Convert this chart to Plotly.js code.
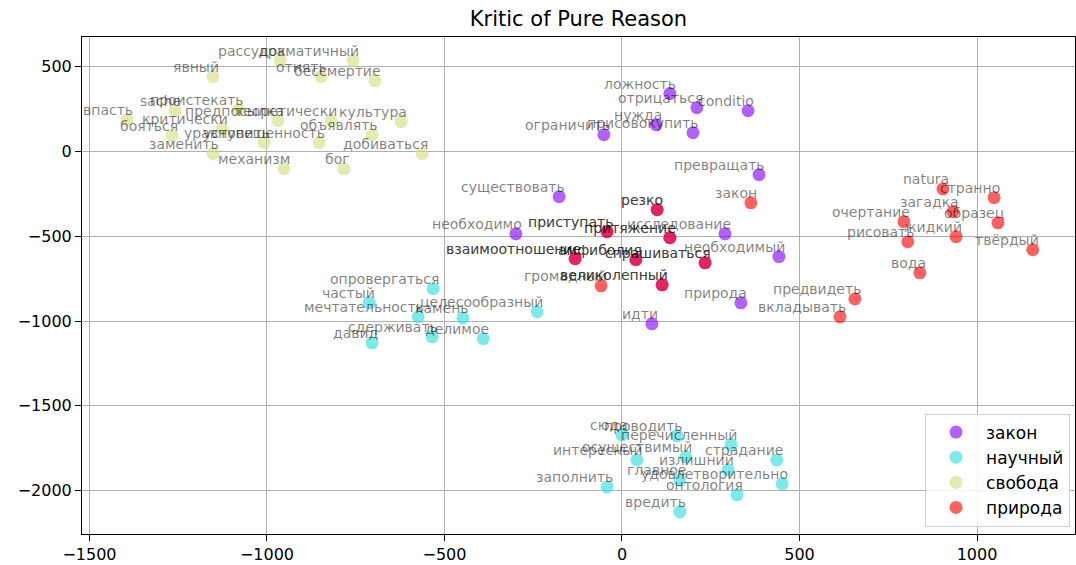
<!DOCTYPE html>
<html>
<head>
<meta charset="utf-8">
<script src="https://cdn.plot.ly/plotly-3.0.1.min.js"></script>
<style>html,body{margin:0;padding:0;background:#fff;}#chart{width:1076px;height:565px;}</style>
</head>
<body>
<div id="chart"></div>
<script>
// ---- data ----
const seriesNames = ["закон", "научный", "свобода", "природа"];

const zakonWords = ["ложность","отрицаться","conditio","нужда","присовокупить","ограничить","превращать","существовать","необходимо","исследование","необходимый","природа","идти","резко","приступать","притяжение","взаимоотношение","амфиболия","спрашиваться","великолепный"];
const zakonX = [135,211,355,96,200,-51,386,-177,-299,290,442,335,84,99,-42,135,-132,39,234,113];
const zakonY = [342,259,241,159,111,100,-136,-266,-485,-485,-620,-892,-1016,-343,-473,-508,-632,-638,-656,-786];

const nauchWords = ["опровергаться","частый","мечтательность","камень","целесообразный","сдерживать","делимое","давид","сюда","проводить","перечисленный","интересный","осуществимый","страдание","излишний","главное","удовлетворительно","онтология","заполнить","вредить"];
const nauchX = [-532,-712,-574,-448,-239,-535,-391,-704,0,155,307,42,180,436,299,163,451,324,-42,163];
const nauchY = [-809,-892,-975,-981,-945,-1093,-1104,-1128,-1671,-1677,-1730,-1819,-1801,-1819,-1878,-1937,-1960,-2025,-1978,-2125];

const svobodaWords = ["явный","рассудок","драматичный","отнять","бессмертие","впасть","sache","проистекать","предпосылка","теоретически","культура","бояться","критически","уступить","уравновешенность","объявлять","заменить","добиваться","механизм","бог"];
const svobodaX = [-1152,-963,-758,-848,-696,-1394,-1259,-1081,-969,-819,-622,-1267,-1126,-1008,-853,-704,-1152,-563,-952,-783];
const svobodaY = [442,537,537,442,418,188,241,247,182,182,177,94,135,53,53,99,-12,-12,-101,-101];

const prirodaWords = ["закон","громадный","natura","странно","загадка","образец","очертание","жидкий","рисовать","твёрдый","вода","предвидеть","вкладывать","резко","приступать","притяжение","взаимоотношение","амфиболия","спрашиваться","великолепный"];
const prirodaX = [363,-59,904,1048,932,1059,794,941,805,1157,839,656,614,99,-42,135,-132,39,234,113];
const prirodaY = [-302,-792,-220,-272,-355,-420,-414,-502,-532,-579,-715,-869,-975,-343,-473,-508,-632,-638,-656,-786];

const xTicks = [-1500,-1000,-500,0,500,1000];
const yTicks = [500,0,-500,-1000,-1500,-2000];

// ---- styling ----
const colors = ["rgb(128,0,255)","rgb(43,221,221)","rgb(212,221,128)","rgb(255,0,0)"];
const FONT = "DejaVu Sans, Liberation Sans, sans-serif";

const groups = [
  [zakonWords, zakonX, zakonY],
  [nauchWords, nauchX, nauchY],
  [svobodaWords, svobodaX, svobodaY],
  [prirodaWords, prirodaX, prirodaY]
];

const traces = groups.map((g, i) => ({
  type: "scatter",
  mode: "markers",
  name: seriesNames[i],
  x: g[1],
  y: g[2],
  marker: {color: colors[i], size: 13, opacity: 0.62, line: {width: 0}},
  hoverinfo: "skip"
}));

const annotations = [];
groups.forEach(g => {
  g[0].forEach((w, k) => {
    annotations.push({
      x: g[1][k], y: g[2][k], xref: "x", yref: "y",
      text: w, showarrow: false,
      xanchor: "right", yanchor: "bottom",
      xshift: 7, yshift: 1, borderpad: 0,
      font: {family: FONT, size: 14, color: "rgba(0,0,0,0.5)"}
    });
  });
});

const axisCommon = {
  showgrid: true, gridcolor: "#b0b0b0", gridwidth: 1,
  zeroline: false, showline: true, linecolor: "#000", linewidth: 1, mirror: true,
  ticks: "outside", ticklen: 6, tickcolor: "#000", tickwidth: 1,
  tickfont: {family: FONT, size: 16, color: "#000"}
};

const layout = {
  width: 1076, height: 565,
  margin: {l: 82, r: 1, t: 37, b: 31},
  paper_bgcolor: "#fff", plot_bgcolor: "#fff",
  title: {text: "Kritic of Pure Reason", x: 0.5, xref: "paper", y: 0.967, yref: "container", yanchor: "middle",
          font: {family: FONT, size: 21, color: "#000"}},
  xaxis: Object.assign({}, axisCommon, {range: [-1521, 1276], tickvals: xTicks}),
  yaxis: Object.assign({}, axisCommon, {range: [-2256, 676], tickvals: yTicks}),
  showlegend: true,
  legend: {x: 0.995, y: 0.015, xanchor: "right", yanchor: "bottom",
           bgcolor: "rgba(255,255,255,0.85)", bordercolor: "#d0d0d0", borderwidth: 1,
           itemwidth: 50,
           font: {family: FONT, size: 17, color: "#000"}},
  annotations: annotations
};

Plotly.newPlot("chart", traces, layout, {staticPlot: true, displayModeBar: false});
</script>
</body>
</html>
